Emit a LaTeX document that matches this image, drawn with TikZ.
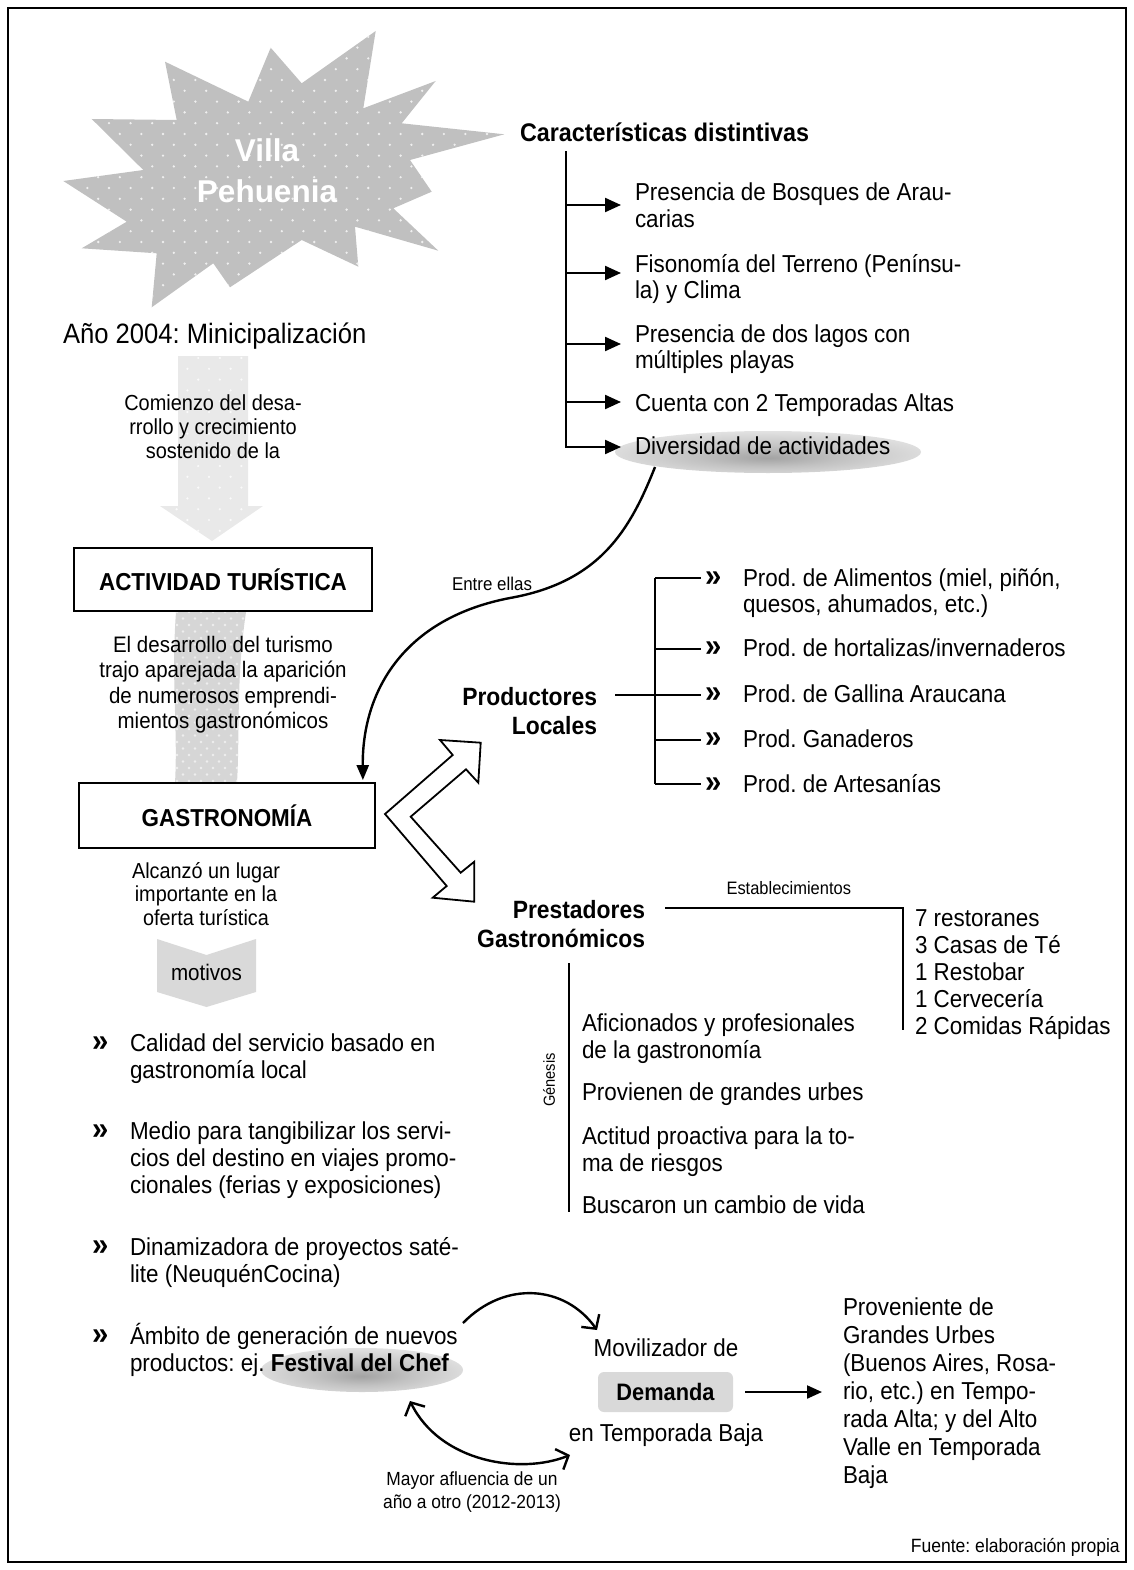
\documentclass[tikz,border=0pt]{standalone}
\usepackage{fontspec}
\setmainfont{Liberation Sans}[FakeStretch=0.915]
\newfontfamily\starfont{Liberation Sans}[FakeStretch=1.0]
\usetikzlibrary{arrows.meta,calc}
\frenchspacing

\newcommand{\fsz}[2]{\fontsize{#1}{#2}\selectfont}

\definecolor{stargray}{HTML}{C0C0C0}
\definecolor{paleband}{HTML}{E9E9E9}
\definecolor{ribbongray}{HTML}{D6D6D6}
\definecolor{boxgray}{HTML}{D9D9D9}

\pgfdeclareradialshading{softshadow}{\pgfpoint{0bp}{-7bp}}{%
  color(0bp)=(black!36); color(12bp)=(black!24); color(30bp)=(black!10); color(50bp)=(black!5)}

\tikzset{barbtip/.tip={Straight Barb[length=10pt,width=22pt]}}

\begin{document}
\begin{tikzpicture}[x=1pt,y=-1pt,
  txt/.style={inner sep=0pt, outer sep=0pt, align=left, anchor=base west, font=\fsz{24.5}{26.5}},
  ltxt/.style={txt, font=\fsz{24.5}{27}},
  ctxt/.style={inner sep=0pt, outer sep=0pt, align=center, anchor=base},
  rhead/.style={inner sep=0pt, outer sep=0pt, align=right, anchor=base east, font=\bfseries\fsz{25}{29.5}},
  bul/.style={inner sep=0pt, outer sep=0pt, anchor=base west, font=\bfseries\fsz{32}{32}},
  bigbox/.style={draw, line width=1.8pt, inner sep=0pt, font=\bfseries\fsz{24.5}{26}},
  small/.style={inner sep=0pt, outer sep=0pt, font=\fsz{18.5}{23}},
  tree/.style={line width=2.2pt},
  tri/.style={line width=2.2pt, -{Triangle[length=16pt,width=14pt]}},
  curv/.style={line width=2.4pt},
  shadowell/.style={shading=softshadow}
]
\useasboundingbox (0,0) rectangle (1134,1570);

% outer frame
\draw[line width=2pt] (8,8) rectangle (1126,1562);

% ---------- dotted star ----------
\begin{scope}
  \clip (375.7,31) -- (363.3,108.3) -- (435.7,81) -- (401.7,123.3) -- (504.3,134.3)
    -- (410,160) -- (431.7,191.7) -- (393.3,208.3) -- (438.3,250.7) -- (355,226.7)
    -- (358.3,266.7) -- (301.7,240) -- (230,287.3) -- (213.3,263.3) -- (151.7,307.3)
    -- (156.7,253.3) -- (81.7,248.3) -- (126.7,221.7) -- (63.3,181) -- (143.3,170)
    -- (91.7,119) -- (176.7,120) -- (165,61.7) -- (248.3,101.7) -- (270.7,47.7)
    -- (301.7,83.3) -- cycle;
  \fill[stargray] (50,20) rectangle (520,320);
  \foreach \r in {0,...,27}{
    \foreach \c in {0,...,22}{
      \fill[white, opacity=0.75] ({55+21.6*\c+10.8*mod(\r,2)},{26+10.8*\r}) circle (1.3pt);
    }
  }
\end{scope}
\node[ctxt, text=white, font=\starfont\bfseries\fsz{31.5}{41}] (villa) at (267,203) {Villa\\Pehuenia};

\node[txt, font=\fsz{28}{30}] (ano) at (63,343) {Año 2004: Minicipalización};

% ---------- pale broad arrow ----------
\begin{scope}
  \clip (178,356) -- (248,356) -- (248,506) -- (263,506) -- (212,541) -- (160,506) -- (178,506) -- cycle;
  \fill[paleband] (150,350) rectangle (270,545);
  \foreach \r in {0,...,18}{
    \foreach \c in {0,...,6}{
      \fill[white, opacity=0.8] ({155+21.6*\c+10.8*mod(\r,2)},{358+10.8*\r}) circle (1.2pt);
    }
  }
\end{scope}
\node[ctxt, font=\fsz{21.8}{24}] (comienzo) at (213,458) {Comienzo del desa-\\rrollo y crecimiento\\sostenido de la};

\node[bigbox, minimum width=298pt, minimum height=63pt] (act) at (223,579.5) {ACTIVIDAD TURÍSTICA};

% ---------- grey ribbon ----------
\begin{scope}
  \clip (176,612) .. controls (171,680) and (178,730) .. (175,783) -- (237,783)
    .. controls (240,730) and (236,680) .. (246,612) -- cycle;
  \fill[ribbongray] (160,600) rectangle (260,790);
  \foreach \r in {0,...,26}{
    \foreach \c in {0,...,8}{
      \fill[white, opacity=0.6] ({165+12*\c+6*mod(\r,2)},{612+6.5*\r}) circle (1.3pt);
    }
  }
\end{scope}
\node[ctxt, font=\fsz{22.4}{25.5}] (desarrollo) at (223,728.5) {El desarrollo del turismo\\trajo aparejada la aparición\\de numerosos emprendi-\\mientos gastronómicos};

\node[bigbox, minimum width=296pt, minimum height=65pt] (gastro) at (227,815.5) {GASTRONOMÍA};

\node[ctxt, font=\fsz{21.7}{23.5}] (alcanzo) at (206,925) {Alcanzó un lugar\\importante en la\\oferta turística};

\fill[boxgray] (157,939) -- (206.5,955) -- (256,939) -- (256,992) -- (206.5,1007) -- (157,992) -- cycle;
\node[ctxt, font=\fsz{22.5}{24}] (motivos) at (206.5,980) {motivos};

% ---------- motives list ----------
\shade[shadowell] (362,1370) ellipse [x radius=101, y radius=22];
\node[bul] (m1b) at (92,1051) {»};
\node[ltxt] (m1) at (130,1078) {Calidad del servicio basado en\\gastronomía local};
\node[bul] (m2b) at (92,1139.5) {»};
\node[ltxt] (m2) at (130,1193.5) {Medio para tangibilizar los servi-\\cios del destino en viajes promo-\\cionales (ferias y exposiciones)};
\node[bul] (m3b) at (92,1255) {»};
\node[ltxt] (m3) at (130,1282) {Dinamizadora de proyectos saté-\\lite (NeuquénCocina)};
\node[bul] (m4b) at (92,1344.5) {»};
\node[ltxt] (m4) at (130,1371.5) {Ámbito de generación de nuevos\\productos: ej. \textbf{Festival del Chef}};

% ---------- distinctive features ----------
\node[txt, font=\bfseries\fsz{25.5}{28}] (carac) at (520,142) {Características distintivas};
\shade[shadowell] (768,452) ellipse [x radius=153, y radius=21];
\node[txt] (c1) at (635,227.5) {Presencia de Bosques de Arau-\\carias};
\node[txt] (c2) at (635,298.5) {Fisonomía del Terreno (Penínsu-\\la) y Clima};
\node[txt] (c3) at (635,368.5) {Presencia de dos lagos con\\múltiples playas};
\node[txt] (c4) at (635,411) {Cuenta con 2 Temporadas Altas};
\node[txt] (c5) at (635,454) {Diversidad de actividades};

\coordinate (ctop) at (566,152);
\coordinate (k1) at (566,205);
\coordinate (k2) at (566,273);
\coordinate (k3) at (566,344);
\coordinate (k4) at (566,402);
\coordinate (k5) at (566,447);
\draw[tree, line cap=rect] (ctop) -- (k5);
\foreach \i in {1,...,5}{
  \draw[tri, shorten >=14pt] (k\i) -- (k\i -| c\i.west);
}

% curved link "Entre ellas"
\coordinate (es) at (655,467);
\draw[curv, -{Triangle[length=15pt,width=12pt]}] (es) .. controls (630,530) and (600,582) .. (510,598)
  .. controls (405,618) and (362,690) .. ($(gastro.north east)+(-13,-2)$);
\node[small, anchor=base, font=\fsz{18.5}{22}] (entre) at (492,590) {Entre ellas};

% ---------- hollow double arrow ----------
\draw[line width=1.8pt, fill=white, line join=miter] (385,814) -- (452.7,755) -- (440,740) -- (480.7,742.7)
  -- (478.3,782.7) -- (466,769.3) -- (410.7,816.7) -- (460.7,872.7) -- (474.3,861.7)
  -- (474.3,901.7) -- (432.7,897.7) -- (446.7,886) -- cycle;

% ---------- local producers ----------
\node[rhead] (prod) at (597,734.5) {Productores\\Locales};
\node[bul] (p1b) at (705,586) {»};
\node[bul] (p2b) at (705,656.7) {»};
\node[bul] (p3b) at (705,702.7) {»};
\node[bul] (p4b) at (705,747.3) {»};
\node[bul] (p5b) at (705,792.3) {»};
\node[txt] (p1) at (743,612.5) {Prod. de Alimentos (miel, piñón,\\quesos, ahumados, etc.)};
\node[txt] (p2) at (743,656.7) {Prod. de hortalizas/invernaderos};
\node[txt] (p3) at (743,702.7) {Prod. de Gallina Araucana};
\node[txt] (p4) at (743,747.3) {Prod. Ganaderos};
\node[txt] (p5) at (743,792.3) {Prod. de Artesanías};

\coordinate (pv1) at (655,578);
\coordinate (pv2) at (655,649);
\coordinate (pv3) at (655,695);
\coordinate (pv4) at (655,740);
\coordinate (pv5) at (655,784);
\draw[tree] (pv1) -- (pv5);
\draw[tree] ($(prod.east |- pv3)+(18,0)$) -- (pv3);
\foreach \i in {1,...,5}{
  \draw[tree, shorten >=4pt] (pv\i) -- (pv\i -| p\i b.west);
}

% ---------- gastronomic providers ----------
\node[rhead] (prest) at (645,947.5) {Prestadores\\Gastronómicos};
\coordinate (e0) at (665,908);
\coordinate (e1) at (903,908);
\coordinate (e2) at (903,1030);
\draw[tree] (e0) -- node[small, pos=0.52, above=13pt, font=\fsz{18}{22}] (estab) {Establecimientos} (e1) -- (e2);
\node[txt, font=\fsz{24.5}{27}] (lista) at (915,1034) {7 restoranes\\3 Casas de Té\\1 Restobar\\1 Cervecería\\2 Comidas Rápidas};

\coordinate (g0) at (569,963);
\coordinate (g1) at (569,1212);
\draw[tree] (g0) -- (g1);
\node[small, rotate=90, font=\fsz{16}{20}] (genesis) at (549,1080) {Génesis};
\node[txt] (g1t) at (582,1058) {Aficionados y profesionales\\de la gastronomía};
\node[txt] (g2t) at (582,1100) {Provienen de grandes urbes};
\node[txt] (g3t) at (582,1171) {Actitud proactiva para la to-\\ma de riesgos};
\node[txt] (g4t) at (582,1213) {Buscaron un cambio de vida};

% ---------- demand ----------
\node[ctxt, font=\fsz{24.5}{26}] (moviliz) at (666,1356) {Movilizador de};
\node[fill=boxgray, rounded corners=6pt, minimum width=135pt, minimum height=40pt, inner sep=0pt,
      font=\bfseries\fsz{23.8}{26}] (demanda) at (665.5,1392) {Demanda};
\node[ctxt, font=\fsz{24.5}{26}] (temp) at (666,1441.7) {en Temporada Baja};
\node[txt, font=\fsz{24.5}{28}] (proven) at (843,1483) {Proveniente de\\Grandes Urbes\\(Buenos Aires, Rosa-\\rio, etc.) en Tempo-\\rada Alta; y del Alto\\Valle en Temporada\\Baja};
\draw[line width=2.2pt, -{Triangle[length=15pt,width=13pt]}, shorten <=12pt, shorten >=21pt]
  (demanda.east) -- (demanda.east -| proven.west);

\coordinate (a0) at (463,1323);
\coordinate (a1) at (597,1330);
\draw[curv, -{barbtip}] (a0) .. controls (505,1280) and (565,1285) .. (a1);
\coordinate (b0) at (410,1401);
\coordinate (b1) at (570,1455);
\draw[curv, {barbtip}-{barbtip}] (b0) .. controls (440,1462) and (520,1475) .. (b1);
\node[ctxt, font=\fsz{19}{23}] (afluencia) at (472,1508) {Mayor afluencia de un\\año a otro (2012-2013)};

\node[inner sep=0pt, anchor=base east, font=\fsz{19.2}{22}] (fuente) at (1120,1552) {Fuente: elaboración propia};
\end{tikzpicture}
\end{document}
